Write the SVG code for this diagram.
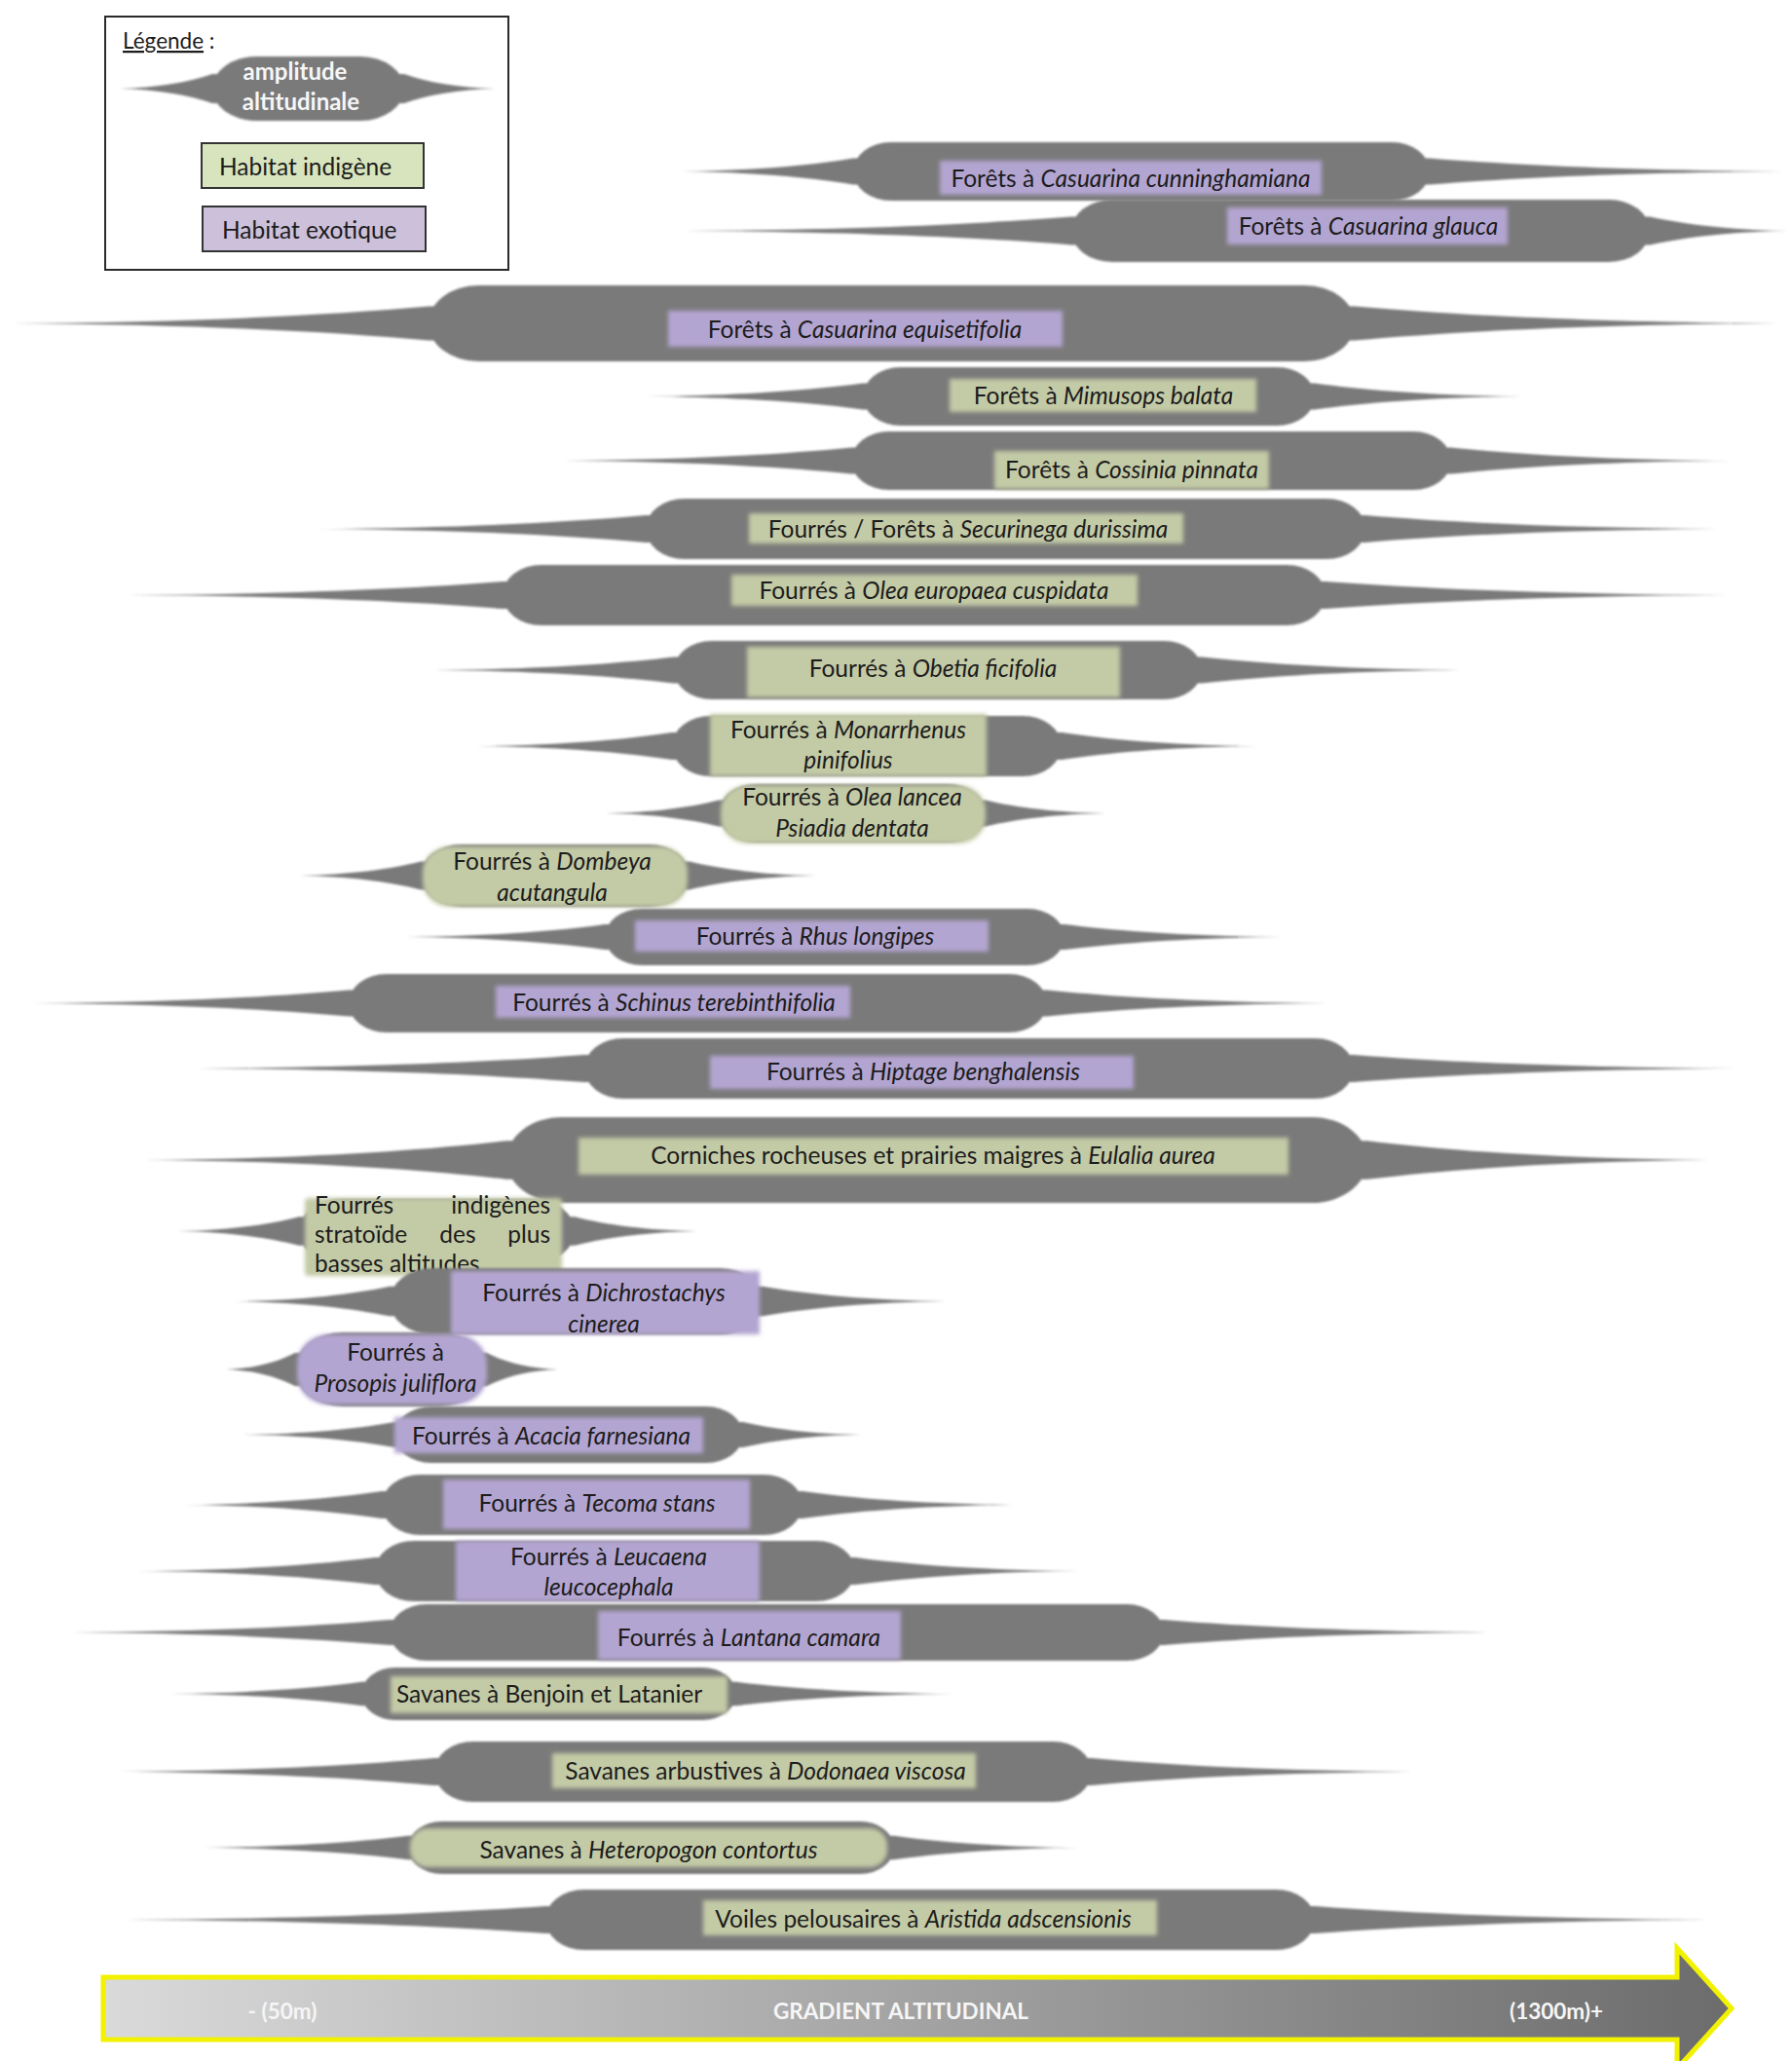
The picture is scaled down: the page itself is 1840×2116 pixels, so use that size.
<svg xmlns="http://www.w3.org/2000/svg" xmlns:xlink="http://www.w3.org/1999/xlink" width="1840" height="2116" viewBox="0 0 1840 2116">
<style>
.sh{fill:#7a7a7a}
.lg{fill:#c3caa6}
.lp{fill:#b3a5d1}
.t{font-family:Lato,'Liberation Sans','DejaVu Sans',sans-serif;font-size:24.5px;fill:#1c1c1c;text-anchor:middle}
.tl{font-family:Lato,'Liberation Sans','DejaVu Sans',sans-serif;font-size:24.5px;fill:#1c1c1c}
.i{font-style:italic}
.ax{font-family:Lato,'Liberation Sans','DejaVu Sans',sans-serif;font-size:22.5px;font-weight:bold;fill:#f6f6f6;text-anchor:middle}
.sf{filter:url(#s1)}
.lf{filter:url(#s2)}
</style>
<defs>
<path id="tail" d="M-1,0 C-0.6,-0.05 -0.25,-0.45 0,-1 L0.12,-1 L0.12,1 L0,1 C-0.25,0.45 -0.6,0.05 -1,0 Z"/>
<filter id="s1" x="-5%" y="-20%" width="110%" height="140%"><feGaussianBlur stdDeviation="1"/></filter>
<filter id="s2" x="-10%" y="-40%" width="120%" height="180%"><feGaussianBlur stdDeviation="2.2"/></filter>
<linearGradient id="axg" x1="0" y1="0" x2="1" y2="0">
<stop offset="0" stop-color="#dadada"/>
<stop offset="1" stop-color="#6c6c6c"/>
</linearGradient>
</defs>
<rect width="1840" height="2116" fill="#ffffff"/>

<g id="legend">
<rect x="108" y="17" width="414" height="260" fill="#ffffff" stroke="#2a2a2a" stroke-width="2"/>
<text class="tl" x="126" y="50" style="font-size:22.5px"><tspan text-decoration="underline">Légende</tspan> :</text>
<g class="sh sf">
<use xlink:href="#tail" transform="translate(218,91) scale(95,15)"/>
<use xlink:href="#tail" transform="translate(415,91) scale(-93,15)"/>
<rect x="218" y="58" width="197" height="66" rx="45" ry="33"/>
</g>
<text class="ax" x="303" y="82" style="font-size:24px">amplitude</text>
<text class="ax" x="309" y="113" style="font-size:24px">altitudinale</text>
<rect x="207" y="147" width="228" height="46" fill="#d7e4bd" stroke="#333" stroke-width="2"/>
<text class="tl" x="225" y="180">Habitat indigène</text>
<rect x="208" y="212" width="229" height="46" fill="#ccc0da" stroke="#333" stroke-width="2"/>
<text class="tl" x="228" y="245">Habitat exotique</text>
</g>

<g id="n1">
<g class="sh sf"><use xlink:href="#tail" transform="translate(876,176) scale(176,13.5)"/><use xlink:href="#tail" transform="translate(1468,176) scale(-362,13.5)"/><rect x="876" y="146" width="592" height="60" rx="39" ry="30"/></g>
<rect class="lp lf" x="965" y="165" width="392" height="35"/>
<text class="t" x="1161" y="192">Forêts à <tspan class="i">Casuarina cunninghamiana</tspan></text>
</g>

<g id="n2">
<g class="sh sf"><use xlink:href="#tail" transform="translate(1100,237) scale(398,14.4)"/><use xlink:href="#tail" transform="translate(1694,237) scale(-142,14.4)"/><rect x="1100" y="205" width="594" height="64" rx="42" ry="32"/></g>
<rect class="lp lf" x="1260" y="213" width="288" height="38"/>
<text class="t" x="1405" y="241">Forêts à <tspan class="i">Casuarina glauca</tspan></text>
</g>

<g id="n3">
<g class="sh sf"><use xlink:href="#tail" transform="translate(440,332) scale(428,17.5)"/><use xlink:href="#tail" transform="translate(1391,332) scale(-434,17.5)"/><rect x="440" y="293" width="951" height="78" rx="51" ry="39"/></g>
<rect class="lp lf" x="686" y="319" width="405" height="37"/>
<text class="t" x="888" y="347">Forêts à <tspan class="i">Casuarina equisetifolia</tspan></text>
</g>

<g id="n4">
<g class="sh sf"><use xlink:href="#tail" transform="translate(886,407) scale(221,13.5)"/><use xlink:href="#tail" transform="translate(1350,407) scale(-213,13.5)"/><rect x="886" y="377" width="464" height="60" rx="39" ry="30"/></g>
<rect class="lg lf" x="975" y="389" width="315" height="34"/>
<text class="t" x="1133" y="415">Forêts à <tspan class="i">Mimusops balata</tspan></text>
</g>

<g id="n5">
<g class="sh sf"><use xlink:href="#tail" transform="translate(874,473) scale(296,13.5)"/><use xlink:href="#tail" transform="translate(1490,473) scale(-286,13.5)"/><rect x="874" y="443" width="616" height="60" rx="39" ry="30"/></g>
<rect class="lg lf" x="1021" y="463" width="282" height="39"/>
<text class="t" x="1162" y="491">Forêts à <tspan class="i">Cossinia pinnata</tspan></text>
</g>

<g id="n6">
<g class="sh sf"><use xlink:href="#tail" transform="translate(663,543) scale(337,14)"/><use xlink:href="#tail" transform="translate(1402,543) scale(-363,14)"/><rect x="663" y="512" width="739" height="62" rx="40" ry="31"/></g>
<rect class="lg lf" x="769" y="527" width="446" height="31"/>
<text class="t" x="994" y="552">Fourrés / Forêts à <tspan class="i">Securinega durissima</tspan></text>
</g>

<g id="n7">
<g class="sh sf"><use xlink:href="#tail" transform="translate(516,611) scale(386,14)"/><use xlink:href="#tail" transform="translate(1361,611) scale(-412,14)"/><rect x="516" y="580" width="845" height="62" rx="40" ry="31"/></g>
<rect class="lg lf" x="751" y="590" width="417" height="32"/>
<text class="t" x="959" y="615">Fourrés à <tspan class="i">Olea europaea cuspidata</tspan></text>
</g>

<g id="n8">
<g class="sh sf"><use xlink:href="#tail" transform="translate(692,688) scale(246,13.5)"/><use xlink:href="#tail" transform="translate(1234,688) scale(-265,13.5)"/><rect x="692" y="658" width="542" height="60" rx="39" ry="30"/></g>
<rect class="lg lf" x="767" y="664" width="383" height="52"/>
<text class="t" x="958" y="695">Fourrés à <tspan class="i">Obetia ficifolia</tspan></text>
</g>

<g id="n9">
<g class="sh sf"><use xlink:href="#tail" transform="translate(690,766) scale(200,14)"/><use xlink:href="#tail" transform="translate(1090,766) scale(-200,14)"/><rect x="690" y="735" width="400" height="62" rx="40" ry="31"/></g>
<rect class="lg lf" x="729" y="733" width="284" height="64"/>
<text class="t" x="871" y="758">Fourrés à <tspan class="i">Monarrhenus</tspan></text>
<text class="t i" x="871" y="789">pinifolius</text>
</g>

<g id="n10">
<g class="sh sf"><use xlink:href="#tail" transform="translate(738,835) scale(116,13.5)"/><use xlink:href="#tail" transform="translate(1012,835) scale(-123,13.5)"/><rect x="738" y="805" width="274" height="60" rx="39" ry="30"/></g>
<rect class="lg lf" x="740" y="806" width="272" height="60" rx="28" ry="26"/>
<text class="t" x="875" y="827">Fourrés à <tspan class="i">Olea lancea</tspan></text>
<text class="t i" x="875" y="859">Psiadia dentata</text>
</g>

<g id="n11">
<g class="sh sf"><use xlink:href="#tail" transform="translate(432,899) scale(124,14.4)"/><use xlink:href="#tail" transform="translate(708,899) scale(-130,14.4)"/><rect x="432" y="867" width="276" height="64" rx="42" ry="32"/></g>
<rect class="lg lf" x="434" y="869" width="272" height="62" rx="28" ry="26"/>
<text class="t" x="567" y="893">Fourrés à <tspan class="i">Dombeya</tspan></text>
<text class="t i" x="567" y="925">acutangula</text>
</g>

<g id="n12">
<g class="sh sf"><use xlink:href="#tail" transform="translate(621,962) scale(203,13)"/><use xlink:href="#tail" transform="translate(1093,962) scale(-223,13)"/><rect x="621" y="933" width="472" height="58" rx="38" ry="29"/></g>
<rect class="lp lf" x="652" y="945" width="363" height="32"/>
<text class="t" x="837" y="970">Fourrés à <tspan class="i">Rhus longipes</tspan></text>
</g>

<g id="n13">
<g class="sh sf"><use xlink:href="#tail" transform="translate(358,1030) scale(324,13.5)"/><use xlink:href="#tail" transform="translate(1075,1030) scale(-288,13.5)"/><rect x="358" y="1000" width="717" height="60" rx="39" ry="30"/></g>
<rect class="lp lf" x="509" y="1012" width="364" height="33"/>
<text class="t" x="692" y="1038">Fourrés à <tspan class="i">Schinus terebinthifolia</tspan></text>
</g>

<g id="n14">
<g class="sh sf"><use xlink:href="#tail" transform="translate(600,1097) scale(398,14)"/><use xlink:href="#tail" transform="translate(1390,1097) scale(-392,14)"/><rect x="600" y="1066" width="790" height="62" rx="40" ry="31"/></g>
<rect class="lp lf" x="729" y="1084" width="435" height="34"/>
<text class="t" x="948" y="1109">Fourrés à <tspan class="i">Hiptage benghalensis</tspan></text>
</g>

<g id="n15">
<g class="sh sf"><use xlink:href="#tail" transform="translate(520,1191) scale(372,19.8)"/><use xlink:href="#tail" transform="translate(1404,1191) scale(-351,19.8)"/><rect x="520" y="1147" width="884" height="88" rx="57" ry="44"/></g>
<rect class="lg lf" x="594" y="1168" width="729" height="38"/>
<text class="t" x="958" y="1195">Corniches rocheuses et prairies maigres à <tspan class="i">Eulalia aurea</tspan></text>
</g>

<g id="n16">
<g class="sh sf"><use xlink:href="#tail" transform="translate(307,1264) scale(124,14.8)"/><use xlink:href="#tail" transform="translate(590,1264) scale(-126,14.8)"/><rect x="307" y="1231" width="283" height="66" rx="43" ry="33"/></g>
<rect class="lg lf" x="313" y="1230" width="264" height="80" rx="4"/>
<text class="tl" x="323" y="1246">Fourrés</text>
<text class="tl" x="565" y="1246" text-anchor="end">indigènes</text>
<text class="tl" x="323" y="1276">stratoïde</text>
<text class="t" x="470" y="1276">des</text>
<text class="tl" x="565" y="1276" text-anchor="end">plus</text>
<text class="tl" x="323" y="1306">basses altitudes</text>
</g>

<g id="n17">
<g class="sh sf"><use xlink:href="#tail" transform="translate(400,1336) scale(158,15.3)"/><use xlink:href="#tail" transform="translate(783,1336) scale(-189,15.3)"/><rect x="400" y="1302" width="383" height="68" rx="44" ry="34"/></g>
<rect class="lp lf" x="463" y="1305" width="317" height="65"/>
<text class="t" x="620" y="1336">Fourrés à <tspan class="i">Dichrostachys</tspan></text>
<text class="t i" x="620" y="1368">cinerea</text>
</g>

<g id="n18">
<g class="sh sf"><use xlink:href="#tail" transform="translate(303,1406) scale(71,17)"/><use xlink:href="#tail" transform="translate(500,1406) scale(-73,17)"/><rect x="303" y="1368" width="197" height="76" rx="49" ry="38"/></g>
<rect class="lp lf" x="305" y="1370" width="195" height="72" rx="32" ry="30"/>
<text class="t" x="406" y="1397">Fourrés à</text>
<text class="t i" x="406" y="1429">Prosopis juliflora</text>
</g>

<g id="n19">
<g class="sh sf"><use xlink:href="#tail" transform="translate(405,1473) scale(155,13)"/><use xlink:href="#tail" transform="translate(763,1473) scale(-121,13)"/><rect x="405" y="1444" width="358" height="58" rx="38" ry="29"/></g>
<rect class="lp lf" x="405" y="1455" width="317" height="37"/>
<text class="t" x="566" y="1483">Fourrés à <tspan class="i">Acacia farnesiana</tspan></text>
</g>

<g id="n20">
<g class="sh sf"><use xlink:href="#tail" transform="translate(392,1545) scale(203,14)"/><use xlink:href="#tail" transform="translate(824,1545) scale(-216,14)"/><rect x="392" y="1514" width="432" height="62" rx="40" ry="31"/></g>
<rect class="lp lf" x="455" y="1519" width="315" height="51"/>
<text class="t" x="613" y="1552">Fourrés à <tspan class="i">Tecoma stans</tspan></text>
</g>

<g id="n21">
<g class="sh sf"><use xlink:href="#tail" transform="translate(385,1613) scale(243,14)"/><use xlink:href="#tail" transform="translate(878,1613) scale(-229,14)"/><rect x="385" y="1582" width="493" height="62" rx="40" ry="31"/></g>
<rect class="lp lf" x="468" y="1582" width="312" height="62"/>
<text class="t" x="625" y="1607">Fourrés à <tspan class="i">Leucaena</tspan></text>
<text class="t i" x="625" y="1638">leucocephala</text>
</g>

<g id="n22">
<g class="sh sf"><use xlink:href="#tail" transform="translate(400,1676) scale(326,13)"/><use xlink:href="#tail" transform="translate(1195,1676) scale(-337,13)"/><rect x="400" y="1647" width="795" height="58" rx="38" ry="29"/></g>
<rect class="lp lf" x="614" y="1654" width="311" height="50"/>
<text class="t" x="769" y="1690">Fourrés à <tspan class="i">Lantana camara</tspan></text>
</g>

<g id="n23">
<g class="sh sf"><use xlink:href="#tail" transform="translate(371,1739) scale(195,12.2)"/><use xlink:href="#tail" transform="translate(756,1739) scale(-223,12.2)"/><rect x="371" y="1712" width="385" height="54" rx="35" ry="27"/></g>
<rect class="lg lf" x="401" y="1721" width="346" height="38"/>
<text class="t" x="564" y="1748">Savanes à Benjoin et Latanier</text>
</g>

<g id="n24">
<g class="sh sf"><use xlink:href="#tail" transform="translate(446,1819) scale(324,14)"/><use xlink:href="#tail" transform="translate(1121,1819) scale(-330,14)"/><rect x="446" y="1788" width="675" height="62" rx="40" ry="31"/></g>
<rect class="lg lf" x="567" y="1800" width="435" height="36"/>
<text class="t" x="786" y="1827">Savanes arbustives à <tspan class="i">Dodonaea viscosa</tspan></text>
</g>

<g id="n25">
<g class="sh sf"><use xlink:href="#tail" transform="translate(419,1897) scale(210,12.2)"/><use xlink:href="#tail" transform="translate(918,1897) scale(-189,12.2)"/><rect x="419" y="1870" width="499" height="54" rx="35" ry="27"/></g>
<rect class="lg lf" x="421" y="1877" width="490" height="40" rx="18" ry="18"/>
<text class="t" x="666" y="1908">Savanes à <tspan class="i">Heteropogon contortus</tspan></text>
</g>

<g id="n26">
<g class="sh sf"><use xlink:href="#tail" transform="translate(560,1971) scale(432,14)"/><use xlink:href="#tail" transform="translate(1350,1971) scale(-405,14)"/><rect x="560" y="1940" width="790" height="62" rx="40" ry="31"/></g>
<rect class="lg lf" x="722" y="1951" width="466" height="36"/>
<text class="t" x="948" y="1979">Voiles pelousaires à <tspan class="i">Aristida adscensionis</tspan></text>
</g>

<g id="axis">
<path d="M106,2030 H1722 V2000 L1778,2062 L1722,2124 V2094 H106 Z" fill="url(#axg)" stroke="#f2f200" stroke-width="5" stroke-linejoin="miter"/>
<text class="ax" x="290" y="2073">- (50m)</text>
<text class="ax" x="925" y="2073">GRADIENT ALTITUDINAL</text>
<text class="ax" x="1598" y="2073">(1300m)+</text>
</g>
</svg>
